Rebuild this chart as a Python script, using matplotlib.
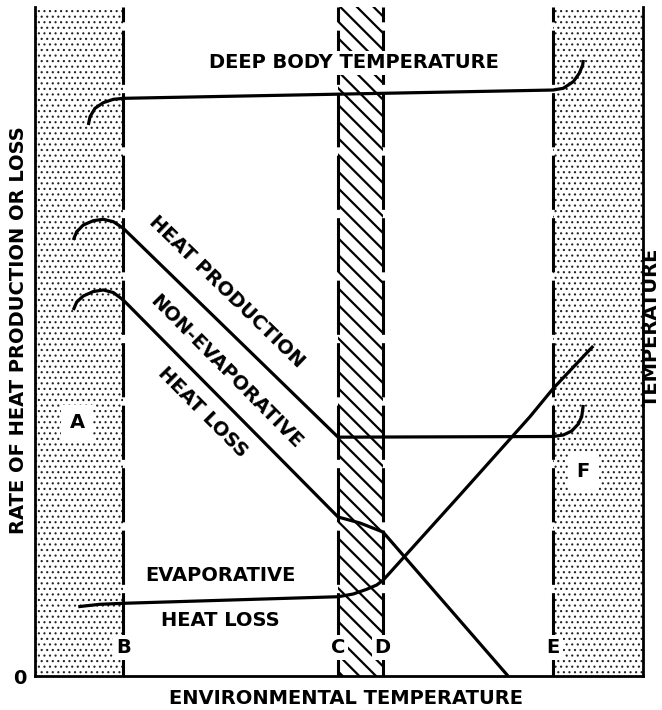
import numpy as np
import matplotlib
matplotlib.use("Agg")
import matplotlib.pyplot as plt

plt.rcParams['font.family'] = ['DejaVu Sans']
plt.rcParams['font.weight'] = 'bold'
plt.rcParams['axes.labelweight'] = 'bold'
plt.rcParams['lines.scale_dashes'] = False

# ---------------- data (arbitrary units: x = environmental temperature, y = rate) ----
x_max = 100.0
y_max = 100.0
zone_names = ['B', 'C', 'D', 'E']
zone_x = [14.5, 49.8, 57.2, 85.2]

deep_x = [8.77, 9.05, 9.87, 11.23, 12.88, 14.52, 85.2, 86.89, 88.54, 89.52, 90.08, 90.18]
deep_y = [82.36, 83.60, 84.86, 85.70, 86.20, 86.35, 87.59, 87.85, 88.84, 90.09, 91.33, 92.08]

prod_x = [6.30, 6.86, 7.94, 9.59, 11.23, 12.88, 14.52, 49.84, 85.2, 86.89, 88.27, 89.36, 89.92, 90.18]
prod_y = [65.17, 66.41, 67.41, 68.06, 68.27, 67.91, 66.92, 35.7, 35.8, 36.02, 36.62, 37.67, 38.76, 40.51]

nonevap_x = [6.30, 6.86, 7.94, 9.59, 11.23, 12.88, 14.52, 49.84, 53.45, 57.24, 77.80]
nonevap_y = [54.71, 55.90, 56.80, 57.47, 57.70, 57.32, 56.20, 23.77, 22.87, 21.52, 0.0]

evap_x = [7.12, 10.69, 14.64, 49.89, 52.35, 54.55, 56.20, 57.29, 69.90, 81.41, 85.25, 91.82]
evap_y = [10.36, 10.72, 10.87, 11.85, 12.26, 12.96, 13.60, 14.35, 27.06, 38.76, 43.00, 49.33]

region_labels = ['A', 'F']
region_x = [6.91, 90.18]
region_y = [37.82, 30.54]

# ---------------- figure ---------------------------------------------------------
W, H = 662, 710
fig = plt.figure(figsize=(W / 100, H / 100), dpi=100)
ax = fig.add_axes([35 / W, 34 / H, 608 / W, 669 / H])
ax.set_xlim(0, x_max)
ax.set_ylim(0, y_max)

FS = 14
LW = 2.3

# stippled zones (outside B..E)
for x0, x1 in [(0, zone_x[0]), (zone_x[3], x_max)]:
    p = ax.axvspan(x0, x1, facecolor='white', edgecolor='#222222', hatch='...', linewidth=0, zorder=0)
    if hasattr(p, 'set_hatch_linewidth'):
        p.set_hatch_linewidth(0.8)

# hatched thermoneutral band C..D
band = ax.axvspan(zone_x[1], zone_x[2], facecolor='white', edgecolor='black', hatch='\\\\', linewidth=0, zorder=0)
if hasattr(band, 'set_hatch_linewidth'):
    band.set_hatch_linewidth(1.6)

# dashed boundaries
for xv in zone_x:
    ax.axvline(xv, color='black', lw=2.2, linestyle=(24, (39, 6)), zorder=2)

# curves
for xs, ys in [(deep_x, deep_y), (prod_x, prod_y), (nonevap_x, nonevap_y), (evap_x, evap_y)]:
    ax.plot(xs, ys, color='black', lw=LW, solid_joinstyle='round', solid_capstyle='butt', zorder=3)

white = dict(boxstyle='square,pad=0.15', fc='white', ec='none')

def screen_angle(xs, ys, i, j):
    p1 = ax.transData.transform((xs[i], ys[i]))
    p2 = ax.transData.transform((xs[j], ys[j]))
    return np.degrees(np.arctan2(p2[1] - p1[1], p2[0] - p1[0]))

ang_prod = screen_angle(prod_x, prod_y, 6, 7)
ang_non = screen_angle(nonevap_x, nonevap_y, 6, 7)

ax.text(52.47, 91.63, 'DEEP BODY TEMPERATURE', ha='center', va='center', fontsize=FS, bbox=white, zorder=4)
ax.text(31.58, 57.40, 'HEAT PRODUCTION', ha='center', va='center', fontsize=FS,
        rotation=ang_prod, rotation_mode='anchor', zorder=4)
ax.text(31.41, 45.52, 'NON-EVAPORATIVE', ha='center', va='center', fontsize=FS,
        rotation=ang_non, rotation_mode='anchor', zorder=4)
ax.text(27.55, 39.39, 'HEAT LOSS', ha='center', va='center', fontsize=FS,
        rotation=ang_non, rotation_mode='anchor', zorder=4)
ax.text(30.43, 15.0, 'EVAPORATIVE', ha='center', va='center', fontsize=FS, zorder=4)
ax.text(30.43, 8.37, 'HEAT LOSS', ha='center', va='center', fontsize=FS, zorder=4)

for name, xv in zip(zone_names, zone_x):
    ax.text(xv, 4.3, name, ha='center', va='center', fontsize=FS, bbox=white, zorder=4)
for name, xv, yv in zip(region_labels, region_x, region_y):
    ax.text(xv, yv, name, ha='center', va='center', fontsize=FS,
            bbox=dict(boxstyle='square,pad=0.45', fc='white', ec='none'), zorder=4)

# axes styling
ax.spines['top'].set_visible(False)
for s in ['left', 'right', 'bottom']:
    ax.spines[s].set_linewidth(2.0)
ax.set_xticks([])
ax.set_yticks([0])
ax.set_yticklabels(['0'])
ax.tick_params(axis='y', length=0, pad=6, labelsize=FS)

ax.set_xlabel('ENVIRONMENTAL TEMPERATURE', fontsize=FS, fontweight='bold', va='center')
ax.xaxis.set_label_coords((346 - 35) / 608, (676 - 698) / 669)
ax.set_ylabel('RATE OF HEAT PRODUCTION OR LOSS', fontsize=FS, fontweight='bold', va='center')
ax.yaxis.set_label_coords((19 - 35) / 608, (676 - 330) / 669)
ax.text((651 - 35) / 608, (676 - 327) / 669, 'TEMPERATURE', transform=ax.transAxes,
        rotation=90, ha='center', va='center', fontsize=FS)

fig.savefig('out.png', dpi=100)
